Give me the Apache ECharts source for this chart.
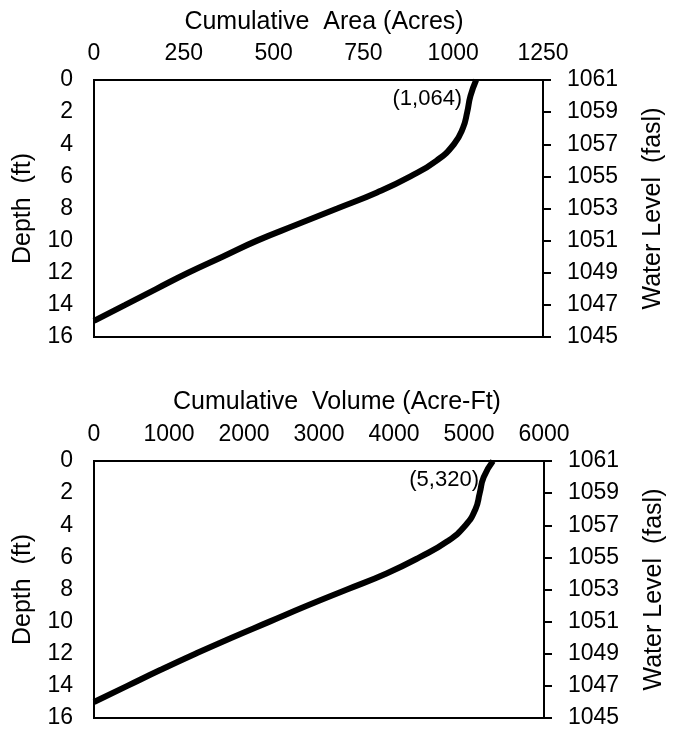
<!DOCTYPE html>
<html>
<head>
<meta charset="utf-8">
<script src="https://cdn.jsdelivr.net/npm/echarts@6/dist/echarts.min.js"></script>
<style>
  html, body { margin: 0; padding: 0; background: #fff; }
  #main { width: 675px; height: 730px; }
</style>
</head>
<body>
<div id="main"></div>
<script>
// depth below full pool (ft)
var depth = [0, 1, 2, 3, 4, 5, 6, 7, 8, 9, 10, 11, 12, 13, 14, 15];
// cumulative area (acres) at each depth
var area = [1064, 1048, 1039, 1027, 1002, 955, 881, 788, 677, 565, 454, 358, 262, 174, 87, 0];
// cumulative volume (acre-ft) at each depth
var volume = [5320, 5196, 5143, 5086, 4954, 4712, 4339, 3900, 3373, 2846, 2341, 1836, 1353, 890, 445, 0];

var FONT = '"Liberation Sans", Arial, sans-serif';

function pairs(xs) {
  return xs.map(function (v, i) { return [v, depth[i]]; });
}

function fmt(v) {
  return '(' + v.toLocaleString('en-US') + ')';
}

var chartDom = document.getElementById('main');
var myChart = echarts.init(chartDom);

var axisTxt = { color: '#000', fontSize: 23, fontFamily: FONT, formatter: function (v) { return String(v); } };
var blackLine = { show: true, lineStyle: { color: '#000', width: 2 } };

function xAx(gi, max, step) {
  return {
    type: 'value', gridIndex: gi, position: 'top',
    min: 0, max: max, interval: step,
    axisLine: blackLine, axisTick: { show: false },
    splitLine: { show: false },
    axisLabel: Object.assign({ margin: 15 }, axisTxt)
  };
}

function yLeft(gi) {
  return {
    type: 'value', gridIndex: gi, position: 'left', inverse: true,
    min: 0, max: 16, interval: 2,
    axisLine: blackLine, axisTick: { show: false }, splitLine: { show: false },
    axisLabel: Object.assign({ margin: 21 }, axisTxt),
    name: 'Depth  (ft)', nameLocation: 'middle', nameRotate: 90, nameGap: 58,
    nameTextStyle: { color: '#000', fontSize: 25, fontFamily: FONT }
  };
}

function yRight(gi) {
  return {
    type: 'value', gridIndex: gi, position: 'right',
    min: 1045, max: 1061, interval: 2,
    axisLine: blackLine,
    axisTick: { show: true, inside: false, length: 8, lineStyle: { color: '#000', width: 2 } },
    splitLine: { show: false },
    axisLabel: Object.assign({ margin: 24 }, axisTxt),
    name: 'Water Level  (fasl)', nameLocation: 'middle', nameRotate: 90, nameGap: 98,
    nameTextStyle: { color: '#000', fontSize: 25, fontFamily: FONT }
  };
}

function curve(xi, yi, vals) {
  return {
    type: 'line', xAxisIndex: xi, yAxisIndex: yi,
    data: pairs(vals),
    smooth: 0.5,
    showSymbol: false,
    lineStyle: { color: '#000', width: 6 },
    silent: true,
    markPoint: {
      symbol: 'circle', symbolSize: 0,
      data: [{ coord: [vals[0], depth[0]], value: vals[0] }],
      label: {
        show: true, position: 'left', distance: 14, offset: [0, 19],
        color: '#000', fontSize: 22, fontFamily: FONT,
        formatter: function (p) { return fmt(p.value); }
      }
    }
  };
}

var option = {
  animation: false,
  backgroundColor: '#fff',
  grid: [
    { left: 94, top: 80, width: 449, height: 257, show: true, borderColor: '#000', borderWidth: 2 },
    { left: 94, top: 461, width: 455, height: 257, show: true, borderColor: '#000', borderWidth: 2 }
  ],
  graphic: [
    { type: 'text', style: { x: 324, y: 22, text: 'Cumulative  Area (Acres)', textAlign: 'center', textVerticalAlign: 'middle', fill: '#000', font: '25px ' + FONT } },
    { type: 'text', style: { x: 337, y: 402, text: 'Cumulative  Volume (Acre-Ft)', textAlign: 'center', textVerticalAlign: 'middle', fill: '#000', font: '25px ' + FONT } }
  ],
  xAxis: [xAx(0, 1250, 250), xAx(1, 6000, 1000)],
  yAxis: [yLeft(0), yRight(0), yLeft(1), yRight(1)],
  series: [curve(0, 0, area), curve(1, 2, volume)]
};

option && myChart.setOption(option);
</script>
</body>
</html>
